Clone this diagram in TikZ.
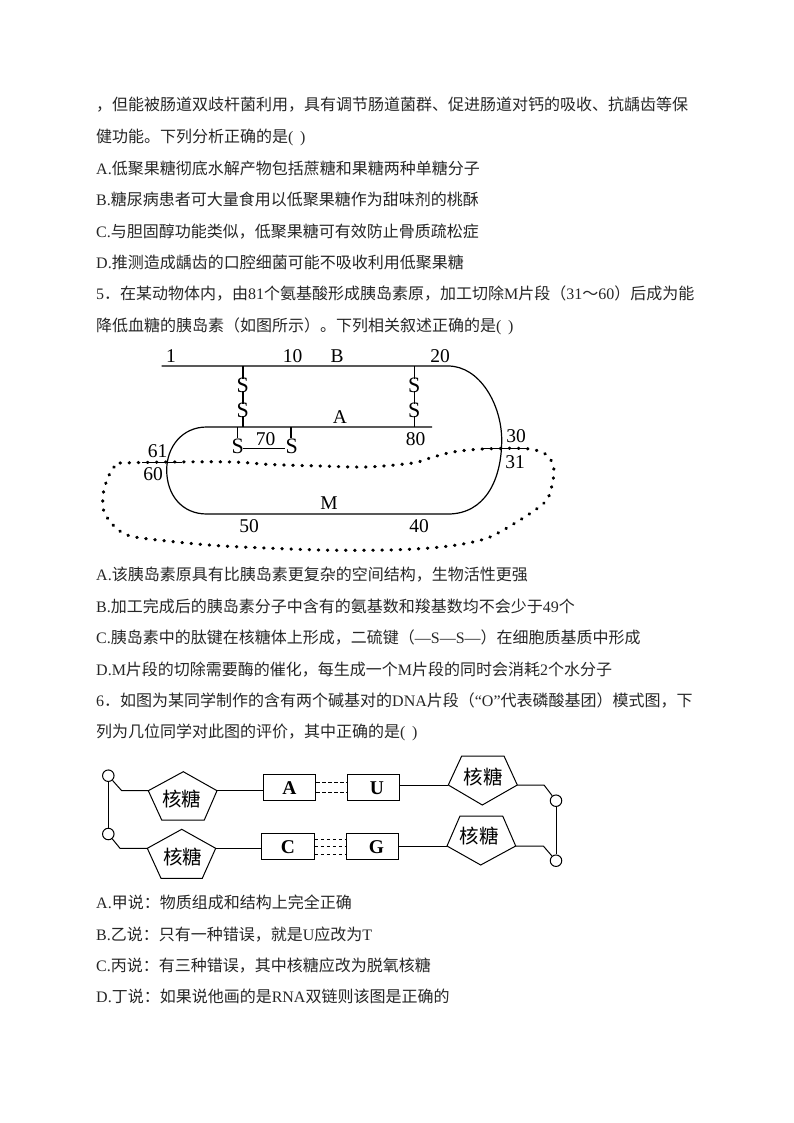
\documentclass[tikz,border=0pt]{standalone}
\usepackage{fontspec}
\setmainfont{Noto Sans CJK SC}
\newfontfamily\latf{Liberation Serif}
\newcommand{\lat}[1]{{\latf #1}}
\tikzset{
	txt/.style={anchor=base west,inner sep=0pt,font=\fontsize{16}{18}\selectfont,text=black!85},
	num/.style={inner sep=0pt,font=\fontsize{19.5}{20}\latf},
	ess/.style={inner sep=0pt,font=\fontsize{22}{22}\latf},
	sugar/.style={inner sep=0pt,font=\fontsize{19.5}{20}\selectfont},
	base/.style={draw,line width=1pt,minimum width=52.5pt,minimum height=26.5pt,inner sep=0pt,font=\fontsize{19.5}{20}\latf\bfseries},
	phos/.style={draw,line width=1pt,circle,minimum size=11.5pt,inner sep=0pt},
	link/.style={line width=1pt},
	hbond/.style={line width=1pt,dash pattern=on 3.5pt off 2.5pt},
	dotline/.style={line width=3.2pt,line cap=round,dash pattern=on 0.5pt off 8.6pt},
	chain/.style={line width=1.2pt}
}
\begin{document}
\begin{tikzpicture}[x=1pt,y=-1pt]
	\useasboundingbox (0,0) rectangle (794,1123);
	% question text
	\node[txt] (l1) at (96,111) {，但能被肠道双歧杆菌利用，具有调节肠道菌群、促进肠道对钙的吸收、抗龋齿等保};
	\node[txt] (l2) at (96,143) {健功能。下列分析正确的是\lat{( \,)}};
	\node[txt] (l3) at (96,175) {\lat{A.}低聚果糖彻底水解产物包括蔗糖和果糖两种单糖分子};
	\node[txt] (l4) at (96,206) {\lat{B.}糖尿病患者可大量食用以低聚果糖作为甜味剂的桃酥};
	\node[txt] (l5) at (96,237) {\lat{C.}与胆固醇功能类似，低聚果糖可有效防止骨质疏松症};
	\node[txt] (l6) at (96,268) {\lat{D.}推测造成龋齿的口腔细菌可能不吸收利用低聚果糖};
	\node[txt] (l7) at (96,299) {\lat{5}．在某动物体内，由\lat{81}个氨基酸形成胰岛素原，加工切除\lat{M}片段（\lat{31}～\lat{60}）后成为能};
	\node[txt] (l8) at (96,331) {降低血糖的胰岛素（如图所示）。下列相关叙述正确的是\lat{( \,)}};
	\node[txt] (l9) at (96,580) {\lat{A.}该胰岛素原具有比胰岛素更复杂的空间结构，生物活性更强};
	\node[txt] (l10) at (96,612) {\lat{B.}加工完成后的胰岛素分子中含有的氨基数和羧基数均不会少于\lat{49}个};
	\node[txt] (l11) at (96,643) {\lat{C.}胰岛素中的肽键在核糖体上形成，二硫键（\lat{—S—S—}）在细胞质基质中形成};
	\node[txt] (l12) at (96,675) {\lat{D.M}片段的切除需要酶的催化，每生成一个\lat{M}片段的同时会消耗\lat{2}个水分子};
	\node[txt] (l13) at (96,706) {\lat{6}．如图为某同学制作的含有两个碱基对的\lat{DNA}片段（\lat{“O”}代表磷酸基团）模式图，下};
	\node[txt] (l14) at (96,737) {列为几位同学对此图的评价，其中正确的是\lat{( \,)}};
	\node[txt] (l15) at (96,908) {\lat{A.}甲说：物质组成和结构上完全正确};
	\node[txt] (l16) at (96,940) {\lat{B.}乙说：只有一种错误，就是\lat{U}应改为\lat{T}};
	\node[txt] (l17) at (96,971) {\lat{C.}丙说：有三种错误，其中核糖应改为脱氧核糖};
	\node[txt] (l18) at (96,1002) {\lat{D.}丁说：如果说他画的是\lat{RNA}双链则该图是正确的};
	% insulin chains
	\draw[chain] (161.7,366) -- (448,366)
		.. controls (480,366) and (501.7,405) .. (501.7,440)
		.. controls (501.7,480) and (485,514) .. (448,514)
		-- (206.7,514)
		.. controls (182,514) and (166.7,495) .. (166.7,470)
		.. controls (166.7,447) and (182,427) .. (206.7,427)
		-- (432,427);
	\draw[line width=1.6pt] (242.7,366) -- (242.7,427);
	\draw[chain] (414.3,366) -- (414.3,427);
	\draw[chain] (237.3,427) -- (237.3,438);
	\draw[chain] (291,427) -- (291,438);
	\draw[line width=1.6pt] (243,448.3) -- (285,448.3);
	\node[ess,fill=white,inner ysep=-1pt] (s1) at (242.7,385) {S};
	\node[ess,fill=white,inner ysep=-1pt] (s2) at (242.7,410) {S};
	\node[ess,fill=white,inner ysep=-1pt] (s3) at (414.3,385) {S};
	\node[ess,fill=white,inner ysep=-1pt] (s4) at (414.3,410) {S};
	\node[ess] (s5) at (237.7,446) {S};
	\node[ess] (s6) at (291.7,446) {S};
	\node[num] (n1) at (171,356) {1};
	\node[num] (n10) at (292.7,356) {10};
	\node[num] (nb) at (337,356) {B};
	\node[num] (n20) at (440,356) {20};
	\node[num] (na) at (340,417) {A};
	\node[num] (n70) at (265.7,439) {70};
	\node[num] (n80) at (415.7,439) {80};
	\node[num] (n61) at (157.7,451) {61};
	\node[num] (n60) at (153,474) {60};
	\node[num] (n30) at (516,436) {30};
	\node[num] (n31) at (515,462) {31};
	\node[num] (nm) at (329,503) {M};
	\node[num] (n50) at (249,526) {50};
	\node[num] (n40) at (419,526) {40};
	% M segment
	\draw[dotline] plot[smooth] coordinates {(120,463) (170,462) (233,462) (270,464.5) (320,466) (367,467) (413,463) (430,458) (453,452) (483,449) (527,448.7) (547,455) (554,470) (550,493) (543,504) (520,520) (490,537) (463,544) (430,548) (387,550) (320,550) (223,546) (167,541) (130,536) (115,527) (104,512) (103,495) (107,480) (113,468) (120,463)};
	\draw[chain] (142,462.5) -- (182,462.5);
	\draw[chain] (483,448.7) -- (528,448.7);
	% pentagons
	\draw[link] (148.3,790.7) coordinate (pl1) -- (183.3,771.7) -- (217,790.7) coordinate (pr1) -- (204.3,820) -- (161.7,820) -- cycle;
	\draw[link] (147.3,848.3) coordinate (pl2) -- (181.7,829.3) -- (215.7,848.3) coordinate (pr2) -- (202.3,878.3) -- (161,878.3) -- cycle;
	\draw[link] (448.3,785) coordinate (pl3) -- (461.7,756) -- (504,756) -- (517.3,785) coordinate (pr3) -- (482.3,805) -- cycle;
	\draw[link] (447,846) coordinate (pl4) -- (460,816) -- (502.7,816) -- (515.7,846) coordinate (pr4) -- (480.7,865) -- cycle;
	\node[sugar] (t1) at (181.7,799) {核糖};
	\node[sugar] (t2) at (182.7,857.3) {核糖};
	\node[sugar] (t3) at (483.3,776.7) {核糖};
	\node[sugar] (t4) at (479.3,836) {核糖};
	% bases
	\node[base] (ba) at (289.3,787.7) {A};
	\node[base] (bu) at (373.3,787.7) {\hspace{7pt}U};
	\node[base] (bc) at (288,846.7) {C};
	\node[base] (bg) at (372.5,846.7) {\hspace{8pt}G};
	% phosphates
	\node[phos] (p1) at (108.3,775.7) {};
	\node[phos] (p2) at (108.3,834) {};
	\node[phos] (p3) at (556,800.7) {};
	\node[phos] (p4) at (556,860.7) {};
	\coordinate (k1) at (121.7,790.7);
	\coordinate (k2) at (120,848.3);
	\coordinate (k3) at (544,785);
	\coordinate (k4) at (543.3,846);
	\draw[link] (p1) -- (p2);
	\draw[link] (p3) -- (p4);
	\draw[link] (p1) -- (k1) -- (pl1);
	\draw[link] (p2) -- (k2) -- (pl2);
	\draw[link] (p3) -- (k3) -- (pr3);
	\draw[link] (p4) -- (k4) -- (pr4);
	\draw[link] (pr1) -- (pr1 -| ba.west);
	\draw[link] (pr2) -- (pr2 -| bc.west);
	\draw[link] (bu.east |- pl3) -- (pl3);
	\draw[link] (bg.east |- pl4) -- (pl4);
	% hydrogen bonds
	\draw[hbond] ([yshift=-5pt]ba.east) -- ([yshift=-5pt]bu.west);
	\draw[hbond] ([yshift=5pt]ba.east) -- ([yshift=5pt]bu.west);
	\draw[hbond] ([yshift=-8pt]bc.east) -- ([yshift=-8pt]bg.west);
	\draw[hbond] (bc.east) -- (bg.west);
	\draw[hbond] ([yshift=7pt]bc.east) -- ([yshift=7pt]bg.west);
\end{tikzpicture}
\end{document}
